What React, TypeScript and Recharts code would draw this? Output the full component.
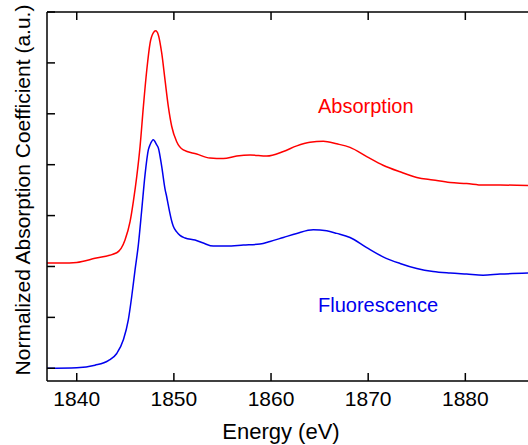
import React from "react";
import { LineChart, Line, XAxis, YAxis } from "recharts";

const absEnergy = [1836.94, 1838.5, 1840.0, 1841.88, 1844.12, 1844.97, 1845.49, 1845.83, 1846.18, 1846.52, 1846.86, 1847.21, 1847.55, 1847.88, 1848.13, 1848.4, 1848.75, 1849.09, 1849.43, 1849.78, 1850.29, 1850.97, 1852.35, 1853.72, 1855.09, 1856.47, 1857.84, 1859.56, 1861.27, 1862.65, 1864.01, 1865.38, 1866.76, 1868.13, 1869.85, 1871.53, 1873.28, 1875.0, 1876.68, 1878.43, 1880.14, 1881.82, 1883.57, 1886.45];
const absValue = [2.07, 2.07, 2.08, 2.16, 2.27, 2.52, 2.88, 3.28, 3.77, 4.36, 5.14, 5.86, 6.39, 6.59, 6.63, 6.55, 6.19, 5.66, 5.14, 4.75, 4.45, 4.29, 4.21, 4.13, 4.12, 4.17, 4.19, 4.17, 4.26, 4.37, 4.44, 4.46, 4.41, 4.34, 4.16, 3.99, 3.86, 3.75, 3.7, 3.65, 3.63, 3.6, 3.6, 3.59];

const fluEnergy = [1836.94, 1840.0, 1841.88, 1843.25, 1844.12, 1844.8, 1845.31, 1845.66, 1846.0, 1846.34, 1846.69, 1847.03, 1847.37, 1847.55, 1847.88, 1848.23, 1848.4, 1848.75, 1849.09, 1849.26, 1849.43, 1849.78, 1849.94, 1850.29, 1850.63, 1851.15, 1852.18, 1853.03, 1854.06, 1855.44, 1857.15, 1858.87, 1859.9, 1861.27, 1862.65, 1864.35, 1865.73, 1866.76, 1868.13, 1869.85, 1871.53, 1873.28, 1875.0, 1876.68, 1878.43, 1880.14, 1881.82, 1883.57, 1886.45];
const fluValue = [0, 0.01, 0.06, 0.15, 0.29, 0.56, 0.95, 1.41, 1.93, 2.42, 3.11, 3.8, 4.29, 4.39, 4.49, 4.39, 4.33, 3.96, 3.52, 3.37, 3.2, 2.89, 2.79, 2.68, 2.61, 2.56, 2.52, 2.46, 2.4, 2.4, 2.42, 2.44, 2.49, 2.57, 2.65, 2.72, 2.7, 2.65, 2.57, 2.37, 2.19, 2.06, 1.96, 1.9, 1.87, 1.85, 1.83, 1.85, 1.87];

const xTicks = [1840, 1850, 1860, 1870, 1880];
const yTicks = [0, 1, 2, 3, 4, 5, 6, 7];

const absData = absEnergy.map((e, i) => ({ e, v: absValue[i] }));
const fluData = fluEnergy.map((e, i) => ({ e, v: fluValue[i] }));

const FONT = "'Liberation Sans', Arial, Helvetica, sans-serif";
const LINE = { stroke: "#000", strokeWidth: 1.5 };
const NoLabel = () => <g />;

export default function App() {
  return (
    <div style={{ position: "absolute", left: 0, top: 0, width: 528, height: 445, overflow: "hidden", background: "#fff" }}>
      <LineChart width={528} height={445} margin={{ top: 12, right: 0, left: 47, bottom: 34 }}>
        <XAxis
          xAxisId="b"
          dataKey="e"
          type="number"
          domain={[1836.94, 1886.45]}
          ticks={xTicks}
          allowDataOverflow
          height={30}
          tickSize={-8}
          tickMargin={18}
          stroke="#000"
          axisLine={LINE}
          tickLine={LINE}
          tick={{ fill: "#000", fontSize: 21, fontFamily: FONT }}
        />
        <XAxis
          xAxisId="t"
          orientation="top"
          dataKey="e"
          type="number"
          domain={[1836.94, 1886.45]}
          ticks={xTicks}
          allowDataOverflow
          height={1}
          mirror
          tickSize={8}
          tick={NoLabel}
          stroke="#000"
          axisLine={LINE}
          tickLine={LINE}
        />
        <YAxis
          type="number"
          domain={[-0.25, 7]}
          ticks={yTicks}
          allowDataOverflow
          width={1}
          mirror
          tickSize={8}
          tick={NoLabel}
          stroke="#000"
          axisLine={LINE}
          tickLine={LINE}
        />
        <Line xAxisId="b" data={absData} dataKey="v" type="monotone" stroke="#ff0000" strokeWidth={1.5} dot={false} isAnimationActive={false} />
        <Line xAxisId="b" data={fluData} dataKey="v" type="monotone" stroke="#0000ee" strokeWidth={1.5} dot={false} isAnimationActive={false} />
      </LineChart>
      <svg width={528} height={445} style={{ position: "absolute", left: 0, top: 0, pointerEvents: "none" }}>
        <text x={318} y={113} fontSize={20} fill="#ff0000" fontFamily={FONT}>Absorption</text>
        <text x={318} y={312} fontSize={20} fill="#0000ee" fontFamily={FONT}>Fluorescence</text>
        <text x={281} y={439} fontSize={22} fill="#000" fontFamily={FONT} textAnchor="middle">Energy (eV)</text>
        <text x={30} y={190} fontSize={21} fill="#000" fontFamily={FONT} textAnchor="middle" transform="rotate(-90 30 190)">Normalized Absorption Coefficient (a.u.)</text>
      </svg>
    </div>
  );
}
